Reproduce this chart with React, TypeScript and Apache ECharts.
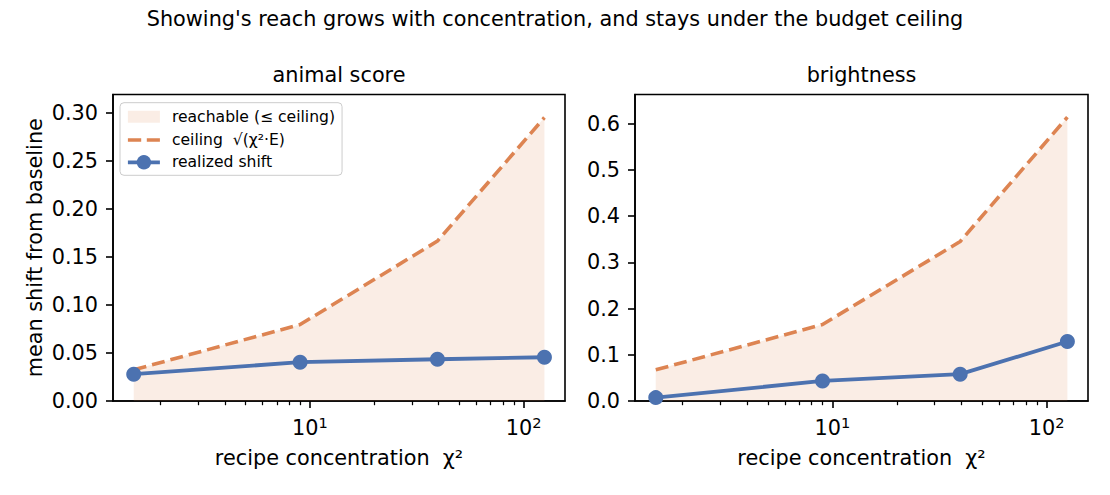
import React, { useEffect, useRef } from 'react';
import * as echarts from 'echarts';

// ---- data ----
const chi2 = [1.5, 9.0, 39.5, 125];
const animalRealized = [0.028, 0.0405, 0.0435, 0.0456];
const animalCeiling = [0.0325, 0.0797, 0.1667, 0.2955];
const brightRealized = [0.0073, 0.0434, 0.058, 0.1288];
const brightCeiling = [0.0674, 0.1655, 0.345, 0.614];

const animalYTicks = [0, 0.05, 0.1, 0.15, 0.2, 0.25, 0.3];
const brightYTicks = [0, 0.1, 0.2, 0.3, 0.4, 0.5, 0.6];
const xMajorTicks = [10, 100];
const xMinorTicks = [2, 3, 4, 5, 6, 7, 8, 9, 20, 30, 40, 50, 60, 70, 80, 90];

const panelTitles = ['animal score', 'brightness'];
const suptitle = "Showing's reach grows with concentration, and stays under the budget ceiling";
const xName = 'recipe concentration  χ²';
const yName = 'mean shift from baseline';
const nameReach = 'reachable (≤ ceiling)';
const nameCeil = 'ceiling  √(χ²·E)';
const nameReal = 'realized shift';

const FONT = '"DejaVu Sans", sans-serif';
const BLUE = '#4c72b0';
const ORANGE = '#dd8452';
const FILL = 'rgba(221,132,82,0.15)';
const FS = 20.8;

const X_MIN = 1.2;
const X_MAX = 156;

function xAxes(gridIndex: number) {
  return [
    {
      gridIndex,
      type: 'log',
      logBase: 10,
      min: X_MIN,
      max: X_MAX,
      position: 'bottom',
      axisLine: { show: true, lineStyle: { color: '#000', width: 1.6 } },
      axisTick: { show: true, length: 7, lineStyle: { color: '#000', width: 1.6 }, customValues: xMajorTicks },
      axisLabel: {
        customValues: xMajorTicks,
        margin: 14,
        formatter: (v: number) => `{b|10}{s|${Math.round(Math.log10(v))}}`,
        rich: {
          b: { fontSize: FS, fontFamily: FONT, color: '#000' },
          s: { fontSize: 14.6, fontFamily: FONT, color: '#000', padding: [0, 0, 11, 0] },
        },
      },
      splitLine: { show: false },
      minorTick: { show: false },
      name: xName,
      nameLocation: 'middle',
      nameGap: 46,
      nameTextStyle: { fontSize: FS, fontFamily: FONT, color: '#000' },
    },
    {
      gridIndex,
      type: 'log',
      logBase: 10,
      min: X_MIN,
      max: X_MAX,
      position: 'bottom',
      axisLine: { show: false },
      axisTick: { show: true, length: 4.2, lineStyle: { color: '#000', width: 1.25 }, customValues: xMinorTicks },
      axisLabel: { show: false },
      splitLine: { show: false },
    },
  ];
}

function yAxis(gridIndex: number, max: number, ticks: number[], digits: number, name?: string) {
  return {
    gridIndex,
    type: 'value',
    min: 0,
    max,
    axisLine: { show: true, lineStyle: { color: '#000', width: 1.6 } },
    axisTick: { show: true, length: 7, lineStyle: { color: '#000', width: 1.6 }, customValues: ticks },
    axisLabel: {
      customValues: ticks,
      margin: 15,
      formatter: (v: number) => v.toFixed(digits),
      fontSize: FS,
      fontFamily: FONT,
      color: '#000',
    },
    splitLine: { show: false },
    name: name || '',
    nameLocation: 'middle',
    nameGap: 68,
    nameTextStyle: { fontSize: FS, fontFamily: FONT, color: '#000' },
  };
}

function panelSeries(xIdx: number, yIdx: number, ceil: number[], real: number[]) {
  return [
    {
      name: nameReach,
      type: 'line',
      xAxisIndex: xIdx,
      yAxisIndex: yIdx,
      data: chi2.map((x, i) => [x, ceil[i]]),
      symbol: 'none',
      lineStyle: { width: 0, color: FILL },
      itemStyle: { color: FILL },
      areaStyle: { color: FILL, opacity: 1 },
      z: 1,
    },
    {
      name: nameCeil,
      type: 'line',
      xAxisIndex: xIdx,
      yAxisIndex: yIdx,
      data: chi2.map((x, i) => [x, ceil[i]]),
      symbol: 'none',
      lineStyle: { width: 3.6, color: ORANGE, type: [13, 6] },
      itemStyle: { color: ORANGE },
      z: 2,
    },
    {
      name: nameReal,
      type: 'line',
      xAxisIndex: xIdx,
      yAxisIndex: yIdx,
      data: chi2.map((x, i) => [x, real[i]]),
      symbol: 'circle',
      symbolSize: 15,
      lineStyle: { width: 3.8, color: BLUE },
      itemStyle: { color: BLUE },
      z: 3,
    },
  ];
}

const option: any = {
  animation: false,
  backgroundColor: '#fff',
  textStyle: { fontFamily: FONT },
  grid: [
    { left: 113, top: 94.5, width: 452, height: 306.5, show: true, borderColor: '#000', borderWidth: 1.6, backgroundColor: 'transparent' },
    { left: 635, top: 94.5, width: 453, height: 306.5, show: true, borderColor: '#000', borderWidth: 1.6, backgroundColor: 'transparent' },
  ],
  xAxis: [...xAxes(0), ...xAxes(1)],
  yAxis: [
    yAxis(0, 0.3195, animalYTicks, 2, yName),
    yAxis(1, 0.663, brightYTicks, 1),
  ],
  legend: {
    orient: 'vertical',
    left: 120,
    top: 102.7,
    itemWidth: 32,
    itemHeight: 18,
    itemGap: 5.3,
    padding: [5, 7, 5, 6],
    backgroundColor: 'rgba(255,255,255,0.8)',
    borderColor: '#cccccc',
    borderWidth: 1,
    borderRadius: 4,
    selectedMode: false,
    textStyle: { fontSize: 15.6, fontFamily: FONT, color: '#000', padding: [0, 0, 0, 7] },
    data: [
      {
        name: nameReach,
        icon: 'path://M0,0h0.1v0.1h-0.1z M0,3h32v12h-32z M31.9,17.9h0.1v0.1h-0.1z',
        itemStyle: { color: FILL, borderWidth: 0 },
      },
      {
        name: nameCeil,
        icon: 'path://M0,0h0.1v0.1h-0.1z M0,7.2h13.3v3.6h-13.3z M18.9,7.2h13.1v3.6h-13.1z M31.9,17.9h0.1v0.1h-0.1z',
        itemStyle: { color: ORANGE, borderWidth: 0 },
      },
      {
        name: nameReal,
        lineStyle: { width: 3.8, color: BLUE },
      },
    ],
  },
  series: [
    ...panelSeries(0, 0, animalCeiling, animalRealized),
    ...panelSeries(2, 1, brightCeiling, brightRealized),
  ],
  graphic: [
    { type: 'text', x: 555, y: 18.5, style: { text: suptitle, fontSize: FS, fontFamily: FONT, fill: '#000', align: 'center', verticalAlign: 'middle' } },
    { type: 'text', x: 339, y: 75, style: { text: panelTitles[0], fontSize: FS, fontFamily: FONT, fill: '#000', align: 'center', verticalAlign: 'middle' } },
    { type: 'text', x: 861.5, y: 75, style: { text: panelTitles[1], fontSize: FS, fontFamily: FONT, fill: '#000', align: 'center', verticalAlign: 'middle' } },
  ],
};

export default function App() {
  const ref = useRef<HTMLDivElement>(null);
  useEffect(() => {
    const chart = echarts.init(ref.current!, null, { renderer: 'svg' });
    chart.setOption(option);
    return () => chart.dispose();
  }, []);
  return (
    <div
      ref={ref}
      style={{ position: 'fixed', left: 0, top: 0, width: 1110, height: 495, background: '#fff' }}
    />
  );
}
